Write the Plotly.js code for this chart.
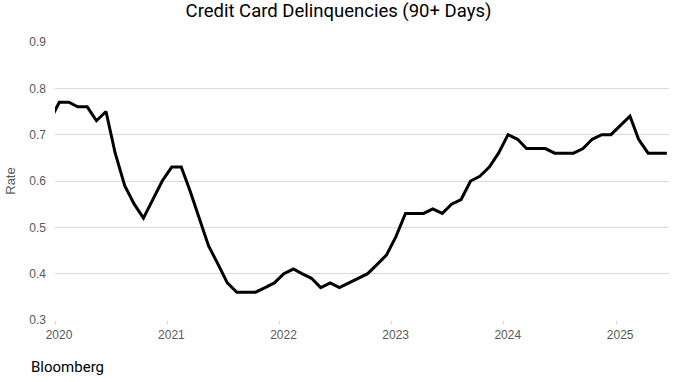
<!DOCTYPE html>
<html>
<head>
<meta charset="utf-8">
<script src="https://cdn.plot.ly/plotly-3.0.1.min.js"></script>
<style>html,body{margin:0;padding:0;background:#fff;}#chart{width:677px;height:382px;}</style>
</head>
<body>
<div id="chart"></div>
<script>
const months = [
  "2019-12-15",
  "2020-01-15","2020-02-15","2020-03-15","2020-04-15","2020-05-15","2020-06-15","2020-07-15","2020-08-15","2020-09-15","2020-10-15","2020-11-15","2020-12-15",
  "2021-01-15","2021-02-15","2021-03-15","2021-04-15","2021-05-15","2021-06-15","2021-07-15","2021-08-15","2021-09-15","2021-10-15","2021-11-15","2021-12-15",
  "2022-01-15","2022-02-15","2022-03-15","2022-04-15","2022-05-15","2022-06-15","2022-07-15","2022-08-15","2022-09-15","2022-10-15","2022-11-15","2022-12-15",
  "2023-01-15","2023-02-15","2023-03-15","2023-04-15","2023-05-15","2023-06-15","2023-07-15","2023-08-15","2023-09-15","2023-10-15","2023-11-15","2023-12-15",
  "2024-01-15","2024-02-15","2024-03-15","2024-04-15","2024-05-15","2024-06-15","2024-07-15","2024-08-15","2024-09-15","2024-10-15","2024-11-15","2024-12-15",
  "2025-01-15","2025-02-15","2025-03-15","2025-04-15","2025-05-15","2025-06-15"
];
const rate = [
  0.73,
  0.77,0.77,0.76,0.76,0.73,0.75,0.66,0.59,0.55,0.52,0.56,0.60,
  0.63,0.63,0.58,0.52,0.46,0.42,0.38,0.36,0.36,0.36,0.37,0.38,
  0.40,0.41,0.40,0.39,0.37,0.38,0.37,0.38,0.39,0.40,0.42,0.44,
  0.48,0.53,0.53,0.53,0.54,0.53,0.55,0.56,0.60,0.61,0.63,0.66,
  0.70,0.69,0.67,0.67,0.67,0.66,0.66,0.66,0.67,0.69,0.70,0.70,
  0.72,0.74,0.69,0.66,0.66,0.66
];
const yTicks = [0.3,0.4,0.5,0.6,0.7,0.8,0.9];
const yTickText = ["0.3","0.4","0.5","0.6","0.7","0.8","0.9"];
const xTicks = ["2020-01-01","2021-01-01","2022-01-01","2023-01-01","2024-01-01","2025-01-01"];
const xTickText = ["2020","2021","2022","2023","2024","2025"];

const grid = "#d9d9d9";
const tickFont = {family: "Liberation Sans, Arial, sans-serif", size: 12, color: "#595959"};

Plotly.newPlot("chart", [{
  x: months, y: rate, type: "scatter", mode: "lines",
  line: {color: "#000000", width: 3}, hoverinfo: "x+y"
}], {
  width: 677, height: 382,
  margin: {l: 55, r: 8, t: 42, b: 62},
  paper_bgcolor: "#ffffff", plot_bgcolor: "#ffffff",
  showlegend: false,
  title: {text: "Credit Card Delinquencies (90+ Days)", x: 0.5, xref: "container", xanchor: "center", y: 0.972, yanchor: "middle",
    font: {family: "Roboto, sans-serif", size: 18.5, color: "#000000"}},
  xaxis: {
    type: "date", range: ["2020-01-01", "2025-06-22"],
    tickvals: xTicks, ticktext: xTickText,
    showgrid: false, zeroline: false, showline: false,
    ticks: "outside", ticklen: 4, tickcolor: grid, tickwidth: 1,
    ticklabelshift: 4, ticklabelstandoff: 0,
    tickfont: tickFont
  },
  yaxis: {
    range: [0.3, 0.9], tickvals: yTicks, ticktext: yTickText,
    showgrid: true, gridcolor: grid, gridwidth: 1, zeroline: false, showline: false,
    ticks: "", ticklabelstandoff: 8, tickfont: tickFont,
    title: {text: "Rate", font: {family: "Liberation Sans, Arial, sans-serif", size: 13, color: "#595959"}, standoff: 10}
  },
  annotations: [{
    text: "Bloomberg", xref: "paper", yref: "paper", x: -0.043, y: -0.168, xanchor: "left", yanchor: "middle",
    showarrow: false, font: {family: "Roboto, sans-serif", size: 15, color: "#000000"}
  }]
}, {displayModeBar: false, staticPlot: true});
</script>
</body>
</html>
